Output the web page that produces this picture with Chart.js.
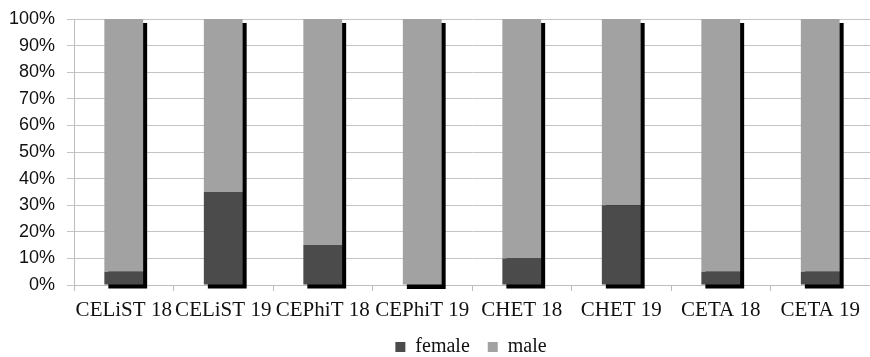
<!DOCTYPE html>
<html>
<head>
<meta charset="utf-8">
<script src="https://cdn.jsdelivr.net/npm/chart.js@4/dist/chart.umd.min.js"></script>
<style>
  html, body { margin: 0; padding: 0; background: #ffffff; }
  #wrap { width: 870px; height: 357px; position: relative; }
</style>
</head>
<body>
<div id="wrap"><canvas id="c"></canvas></div>
<script>
// Programme cohorts and gender share (percent of each cohort)
const categories = ['CELiST 18', 'CELiST 19', 'CEPhiT 18', 'CEPhiT 19', 'CHET 18', 'CHET 19', 'CETA 18', 'CETA 19'];
const female = [5, 35, 15, 0, 10, 30, 5, 5];
const male = [95, 65, 85, 100, 90, 70, 95, 95];
const yTicks = [0, 10, 20, 30, 40, 50, 60, 70, 80, 90, 100];

const LEGEND_PAD = 18;

// Black drop shadow behind each stacked column
const columnShadow = {
  id: 'columnShadow',
  beforeDatasetsDraw(chart) {
    const ctx = chart.ctx;
    const metas = chart.getSortedVisibleDatasetMetas();
    const n = chart.data.labels.length;
    const off = 4;
    ctx.save();
    ctx.fillStyle = '#000000';
    for (let i = 0; i < n; i++) {
      let top = Infinity, bottom = -Infinity, left = 0, right = 0;
      metas.forEach(m => {
        const el = m.data[i];
        if (!el) return;
        const p = el.getProps(['x', 'y', 'base', 'width'], true);
        top = Math.min(top, p.y, p.base);
        bottom = Math.max(bottom, p.y, p.base);
        left = p.x - p.width / 2;
        right = p.x + p.width / 2;
      });
      ctx.fillRect(left + off, top + off, right - left, bottom - top);
    }
    ctx.restore();
  }
};

// Place the legend row: a little right of centre, text midline at y = 347
const legendPlace = {
  id: 'legendPlace',
  afterLayout(chart) {
    const lg = chart.legend;
    if (!lg || !lg.legendHitBoxes || !lg.legendHitBoxes.length) return;
    const dx = 36;
    const itemH = lg.legendHitBoxes[0].height;
    const dy = 347 - (lg.top + LEGEND_PAD + itemH / 2);
    lg.left += dx;
    lg.right += dx;
    lg.top += dy;
    lg.bottom = chart.height;
  }
};

new Chart(document.getElementById('c'), {
  type: 'bar',
  data: {
    labels: categories,
    datasets: [
      { label: 'female', data: female, backgroundColor: '#4b4b4b', stack: 's' },
      { label: 'male', data: male, backgroundColor: '#a2a2a2', stack: 's' }
    ]
  },
  options: {
    responsive: true,
    maintainAspectRatio: false,
    animation: false,
    layout: { padding: { top: 19, right: 0, left: 0, bottom: 0 } },
    datasets: { bar: { categoryPercentage: 1.0, barPercentage: 0.39 } },
    scales: {
      x: {
        stacked: true,
        grid: { drawOnChartArea: false, drawTicks: true, tickLength: 6, color: '#bdbdbd', offset: true },
        border: { color: '#bdbdbd', width: 1 },
        ticks: {
          color: '#111111',
          padding: 7,
          maxRotation: 0,
          autoSkip: false,
          font: { family: "'Liberation Serif', 'Times New Roman', serif", size: 21 }
        },
        afterFit(axis) { axis.height = 42; }
      },
      y: {
        stacked: true,
        min: 0,
        max: 100,
        afterBuildTicks(axis) { axis.ticks = yTicks.map(v => ({ value: v })); },
        grid: { color: '#c4c4c4', tickLength: 7, lineWidth: 1 },
        border: { color: '#bdbdbd', width: 1 },
        ticks: {
          color: '#111111',
          padding: 12,
          callback: v => v + '%',
          font: { family: "'Liberation Sans', Arial, sans-serif", size: 18, lineHeight: 0.5 }
        },
        afterFit(axis) { axis.width = 74; }
      }
    },
    plugins: {
      legend: {
        position: 'bottom',
        maxHeight: 30,
        labels: {
          boxWidth: 10,
          boxHeight: 10,
          padding: LEGEND_PAD,
          color: '#111111',
          font: { family: "'Liberation Serif', 'Times New Roman', serif", size: 20 }
        }
      },
      tooltip: { enabled: false }
    }
  },
  plugins: [columnShadow, legendPlace]
});
</script>
</body>
</html>
